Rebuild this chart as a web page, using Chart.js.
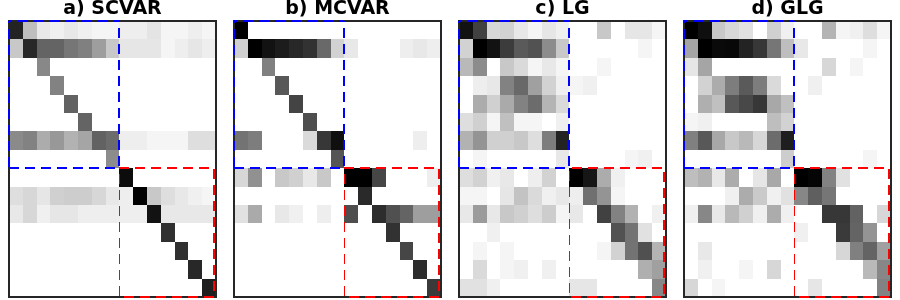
<!DOCTYPE html>
<html>
<head>
<meta charset="utf-8">
<title>Coefficient matrices</title>
<script src="https://cdn.jsdelivr.net/npm/chart.js@4"></script>
<style>
  html, body { margin: 0; padding: 0; background: #fff; }
  #charts { position: relative; width: 900px; height: 300px; overflow: hidden; }
  canvas { position: absolute; top: 0; }
</style>
</head>
<body>
<div id="charts"></div>
<script>
const cols = ['0', '1', '2', '3', '4', '5', '6', '7', '8', '9', '10', '11', '12', '13', '14'];
const titles = ['a) SCVAR', 'b) MCVAR', 'c) LG', 'd) GLG'];

// darkness of each cell, 0 = white, 255 = black
const scvar = [
  [220, 65, 23, 15, 23, 15, 10, 10, 17, 17, 27, 10, 10, 17, 10],
  [55, 215, 155, 155, 137, 127, 97, 55, 25, 25, 25, 10, 17, 25, 17],
  [0, 0, 119, 0, 0, 0, 0, 0, 0, 0, 0, 0, 0, 0, 0],
  [0, 0, 0, 125, 0, 0, 0, 0, 0, 0, 0, 0, 0, 0, 0],
  [0, 0, 0, 0, 157, 0, 0, 0, 0, 0, 0, 0, 0, 0, 0],
  [0, 0, 0, 0, 0, 155, 0, 0, 0, 0, 0, 0, 0, 0, 0],
  [117, 125, 83, 103, 77, 90, 157, 147, 17, 17, 10, 10, 10, 33, 33],
  [0, 0, 0, 0, 0, 0, 0, 115, 0, 0, 0, 0, 0, 0, 0],
  [0, 0, 0, 0, 0, 0, 0, 0, 243, 0, 0, 0, 0, 0, 0],
  [33, 40, 25, 47, 50, 50, 40, 23, 17, 255, 55, 33, 23, 15, 10],
  [23, 40, 15, 25, 25, 17, 17, 17, 17, 17, 237, 23, 23, 23, 23],
  [0, 0, 0, 0, 0, 0, 0, 0, 0, 0, 0, 207, 0, 0, 0],
  [0, 0, 0, 0, 0, 0, 0, 0, 0, 0, 0, 0, 207, 0, 0],
  [0, 0, 0, 0, 0, 0, 0, 0, 0, 0, 0, 0, 0, 215, 0],
  [0, 0, 0, 0, 0, 0, 0, 0, 0, 0, 0, 0, 0, 0, 225]
];
const mcvar = [
  [255, 0, 0, 0, 0, 0, 0, 0, 0, 0, 0, 0, 0, 0, 0],
  [47, 255, 237, 227, 215, 205, 150, 45, 23, 0, 0, 0, 17, 23, 17],
  [0, 0, 127, 0, 0, 0, 0, 0, 0, 0, 0, 0, 0, 0, 0],
  [0, 0, 0, 167, 0, 0, 0, 0, 0, 0, 0, 0, 0, 0, 0],
  [0, 0, 0, 0, 187, 0, 0, 0, 0, 0, 0, 0, 0, 0, 0],
  [0, 0, 0, 0, 0, 177, 0, 0, 0, 0, 0, 0, 0, 0, 0],
  [140, 130, 0, 0, 0, 37, 200, 240, 0, 0, 0, 0, 0, 17, 0],
  [0, 0, 0, 0, 0, 0, 0, 170, 0, 0, 0, 0, 0, 0, 0],
  [40, 110, 0, 55, 47, 23, 55, 0, 255, 255, 185, 0, 0, 0, 17],
  [0, 0, 0, 0, 0, 0, 0, 0, 0, 213, 0, 0, 0, 0, 0],
  [30, 85, 0, 23, 15, 0, 17, 0, 177, 0, 210, 175, 155, 97, 97],
  [0, 0, 0, 0, 0, 0, 0, 0, 0, 0, 0, 205, 0, 0, 0],
  [0, 0, 0, 0, 0, 0, 0, 0, 0, 0, 0, 0, 185, 0, 0],
  [0, 0, 0, 0, 0, 0, 0, 0, 0, 0, 0, 0, 0, 210, 0],
  [0, 0, 0, 0, 0, 0, 0, 0, 0, 0, 0, 0, 0, 0, 197]
];
const lg = [
  [237, 190, 40, 45, 23, 10, 25, 15, 0, 0, 55, 0, 25, 25, 10],
  [45, 255, 237, 195, 165, 173, 115, 55, 0, 0, 0, 0, 0, 10, 0],
  [70, 115, 0, 55, 37, 10, 23, 10, 0, 0, 10, 0, 0, 0, 0],
  [0, 17, 23, 125, 150, 95, 45, 15, 10, 15, 0, 0, 0, 0, 0],
  [0, 83, 47, 85, 125, 147, 75, 37, 0, 0, 0, 0, 0, 0, 0],
  [33, 47, 10, 63, 10, 10, 0, 15, 0, 0, 0, 0, 0, 0, 0],
  [77, 107, 47, 47, 55, 33, 130, 220, 0, 0, 0, 0, 0, 0, 0],
  [0, 10, 0, 0, 0, 0, 0, 23, 0, 0, 0, 0, 10, 15, 0],
  [33, 45, 15, 23, 0, 17, 45, 0, 255, 233, 83, 15, 0, 0, 0],
  [10, 10, 0, 25, 60, 37, 15, 23, 17, 143, 107, 10, 0, 0, 0],
  [23, 100, 23, 55, 47, 33, 50, 10, 23, 0, 190, 125, 77, 0, 15],
  [0, 0, 15, 0, 0, 0, 0, 0, 0, 0, 0, 173, 140, 30, 0],
  [0, 10, 0, 10, 0, 0, 0, 0, 0, 0, 10, 45, 140, 175, 75],
  [0, 37, 0, 10, 15, 0, 15, 0, 0, 0, 0, 0, 0, 80, 95],
  [30, 30, 15, 0, 0, 0, 0, 0, 25, 25, 0, 0, 0, 0, 120]
];
const glg = [
  [255, 240, 55, 40, 30, 0, 47, 15, 0, 0, 75, 10, 15, 33, 10],
  [90, 255, 245, 247, 220, 200, 137, 65, 23, 0, 0, 0, 0, 10, 0],
  [25, 90, 0, 0, 0, 0, 0, 0, 0, 0, 40, 0, 10, 0, 0],
  [0, 45, 83, 130, 165, 130, 37, 0, 0, 15, 0, 0, 0, 0, 0],
  [0, 80, 63, 167, 183, 200, 87, 63, 0, 0, 0, 0, 0, 0, 0],
  [10, 15, 0, 0, 0, 0, 65, 45, 0, 0, 0, 0, 0, 0, 0],
  [127, 167, 87, 55, 70, 40, 147, 225, 0, 0, 0, 0, 0, 0, 0],
  [0, 0, 0, 0, 0, 0, 0, 50, 0, 0, 0, 0, 0, 10, 0],
  [65, 77, 23, 83, 0, 25, 87, 0, 255, 250, 125, 30, 0, 0, 0],
  [0, 0, 0, 15, 83, 53, 15, 30, 120, 160, 137, 0, 0, 0, 0],
  [15, 120, 23, 70, 47, 15, 83, 15, 0, 0, 200, 200, 157, 0, 40],
  [0, 0, 0, 0, 0, 0, 0, 0, 15, 0, 0, 197, 155, 107, 0],
  [0, 23, 0, 0, 0, 0, 0, 0, 0, 0, 0, 40, 127, 155, 95],
  [0, 15, 0, 0, 10, 0, 40, 0, 0, 0, 0, 0, 0, 70, 120],
  [40, 0, 10, 0, 0, 0, 0, 0, 0, 25, 0, 0, 0, 0, 125]
];
const matrices = [scvar, mcvar, lg, glg];

const panelWidth = 225;
const blockEdge = 7.5;
const redRight = 14.355;
const dashOffsets = [0, 0, -3, 0];

function grey(d) {
  const v = 255 - d;
  return `rgb(${v},${v},${v})`;
}

function dashedSide(ctx, x0, y0, x1, y1, offset) {
  ctx.lineDashOffset = offset;
  ctx.beginPath();
  ctx.moveTo(x0, y0);
  ctx.lineTo(x1, y1);
  ctx.stroke();
}

// the reference cells sit on whole pixels, so round the bars the scales computed
const snapBars = {
  id: 'snapBars',
  beforeDatasetsDraw(chart) {
    chart.getSortedVisibleDatasetMetas().forEach(meta => {
      meta.data.forEach(bar => {
        if (bar.skip) return;
        const left = Math.round(bar.x - bar.width / 2);
        const right = Math.round(bar.x + bar.width / 2);
        bar.x = (left + right) / 2;
        bar.width = right - left;
        bar.y = Math.round(bar.y);
        bar.base = Math.round(bar.base);
      });
    });
  }
};

// frame and the two dashed group boxes
const boxes = {
  id: 'boxes',
  afterDatasetsDraw(chart, args, opts) {
    const { ctx, chartArea: a, scales: { x, y } } = chart;
    const left = Math.round(a.left);
    const top = Math.round(a.top);
    const right = Math.round(a.right);
    const bottom = Math.round(a.bottom);
    const midX = Math.round(x.getPixelForValue(blockEdge) - 0.4);
    const midY = Math.round(y.getPixelForValue(blockEdge));
    const redX = Math.round(x.getPixelForValue(redRight));

    ctx.save();
    ctx.strokeStyle = '#262626';
    ctx.lineWidth = 2;
    ctx.strokeRect(left, top, right - left, bottom - top);

    ctx.setLineDash([10, 6]);
    ctx.strokeStyle = '#0000ff';
    dashedSide(ctx, left, top, midX, top, 7);
    dashedSide(ctx, midX, top, midX, midY, 9);
    dashedSide(ctx, midX, midY, left, midY, 12);
    dashedSide(ctx, left, midY, left, top, 15);

    // left side of the red box is cut in half by the clip
    ctx.beginPath();
    ctx.rect(midX, 0, chart.width - midX, chart.height);
    ctx.clip();
    ctx.lineDashOffset = opts.dashOffset;
    ctx.strokeStyle = '#ff0000';
    ctx.strokeRect(midX, midY, redX - midX, bottom - midY);
    ctx.restore();
  }
};

const holder = document.getElementById('charts');

matrices.forEach((rows, p) => {
  const canvas = document.createElement('canvas');
  canvas.style.left = (p * panelWidth) + 'px';
  canvas.width = panelWidth;
  canvas.height = 300;
  holder.appendChild(canvas);

  new Chart(canvas.getContext('2d'), {
    type: 'bar',
    data: {
      labels: cols,
      datasets: rows.map((row, r) => ({
        data: row.map(d => d === 0 ? null : [r - 0.5, r + 0.5]),
        backgroundColor: row.map(grey),
        borderWidth: 0,
        inflateAmount: 0,
        grouped: false,
        barPercentage: 1,
        categoryPercentage: 1
      }))
    },
    options: {
      responsive: false,
      animation: false,
      layout: { padding: { left: 9, right: 9, bottom: 3 } },
      plugins: {
        legend: { display: false },
        tooltip: { enabled: false },
        title: {
          display: true,
          text: titles[p],
          color: '#000',
          font: { family: 'DejaVu Sans', size: 19, weight: 'bold', lineHeight: 1 },
          padding: { top: 0, bottom: 2 }
        },
        boxes: { dashOffset: dashOffsets[p] }
      },
      scales: {
        x: { display: false },
        y: { display: false, reverse: true, min: -0.5, max: 14.5 }
      }
    },
    plugins: [snapBars, boxes]
  });
});
</script>
</body>
</html>
